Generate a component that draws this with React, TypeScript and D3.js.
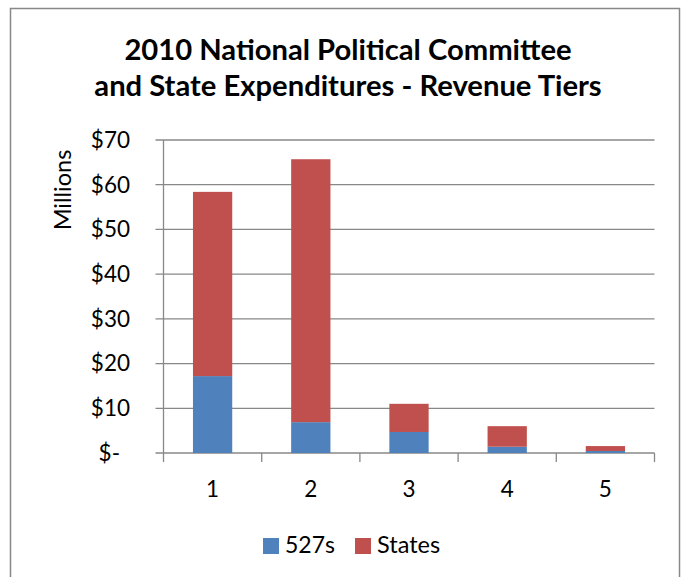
import React from "react";
import * as d3 from "d3";

const categories = ["1", "2", "3", "4", "5"];
const series527s = [17.2, 6.9, 4.7, 1.4, 0.45];
const seriesStates = [41.2, 58.8, 6.3, 4.6, 1.1];
const yTicks = [0, 10, 20, 30, 40, 50, 60, 70];
const seriesNames = ["527s", "States"];
const seriesColors = ["#4F81BD", "#C0504D"];
const titleLines = ["2010 National Political Committee", "and State Expenditures - Revenue Tiers"];

const W = 686;
const H = 577;
const FONT = "Lato, 'Open Sans', sans-serif";

export default function App() {
  const plot = { left: 163.5, right: 654.5, top: 140, bottom: 453 };
  const x = d3.scaleBand<string>().domain(categories).range([plot.left, plot.right]).paddingInner(0.6).paddingOuter(0.3);
  const xOuter = d3.scaleBand<string>().domain(categories).range([plot.left, plot.right]);
  const y = d3.scaleLinear().domain([0, 70]).range([plot.bottom, plot.top]);

  const rows = categories.map((c, i) => ({ cat: c, s527: series527s[i], states: seriesStates[i] }));
  const stack = d3.stack<any>().keys(["s527", "states"])(rows);

  const grid = "#888888";
  const fmt = (v: number) => (v === 0 ? "$-" : `$${v}`);

  return (
    <svg width={W} height={H} style={{ display: "block", position: "absolute", left: 0, top: 0 }}>
      <rect x={0} y={0} width={W} height={H} fill="#fff" />
      <rect x={10.5} y={8.5} width={669} height={H + 10} fill="#fff" stroke="#888" strokeWidth={1.5} />
      {titleLines.map((t, i) => (
        <text key={i} x={348} y={60 + i * 36} textAnchor="middle" fontFamily={FONT} fontWeight={700} fontSize={29.2} fill="#000">
          {t}
        </text>
      ))}
      {yTicks.map((t) => (
        <g key={t}>
          <line x1={plot.left - 8} x2={plot.right} y1={y(t)} y2={y(t)} stroke={grid} strokeWidth={1.3} />
          <text
            x={t === 0 ? 120 : 130}
            y={y(t)}
            dy="0.35em"
            textAnchor="end"
            fontFamily={FONT}
            fontSize={22.5}
            fill="#000"
          >
            {fmt(t)}
          </text>
        </g>
      ))}
      <line x1={plot.left} x2={plot.left} y1={plot.top} y2={plot.bottom + 9} stroke={grid} strokeWidth={1.3} />
      {categories.map((c) => (
        <line key={c} x1={(xOuter(c) as number) + xOuter.bandwidth()} x2={(xOuter(c) as number) + xOuter.bandwidth()} y1={plot.bottom} y2={plot.bottom + 9} stroke={grid} strokeWidth={1.3} />
      ))}
      {stack.map((layer, si) => (
        <g key={si}>
          {layer.map((d: any, i: number) => (
            <rect
              key={i}
              x={x(categories[i])}
              width={x.bandwidth()}
              y={y(d[1])}
              height={y(d[0]) - y(d[1])}
              fill={seriesColors[si]}
            />
          ))}
        </g>
      ))}
      {categories.map((c) => (
        <text key={c} x={(x(c) as number) + x.bandwidth() / 2} y={497} textAnchor="middle" fontFamily={FONT} fontSize={22.5} fill="#000">
          {c}
        </text>
      ))}
      <text transform="translate(71,190) rotate(-90)" textAnchor="middle" fontFamily={FONT} fontSize={23.5} fill="#000">
        Millions
      </text>
      <g>
        <rect x={263} y={538} width={16} height={16} fill={seriesColors[0]} />
        <text x={285} y={553} fontFamily={FONT} fontSize={23} fill="#000">{seriesNames[0]}</text>
        <rect x={355} y={538} width={16} height={16} fill={seriesColors[1]} />
        <text x={377} y={553} fontFamily={FONT} fontSize={23.5} fill="#000">{seriesNames[1]}</text>
      </g>
    </svg>
  );
}
